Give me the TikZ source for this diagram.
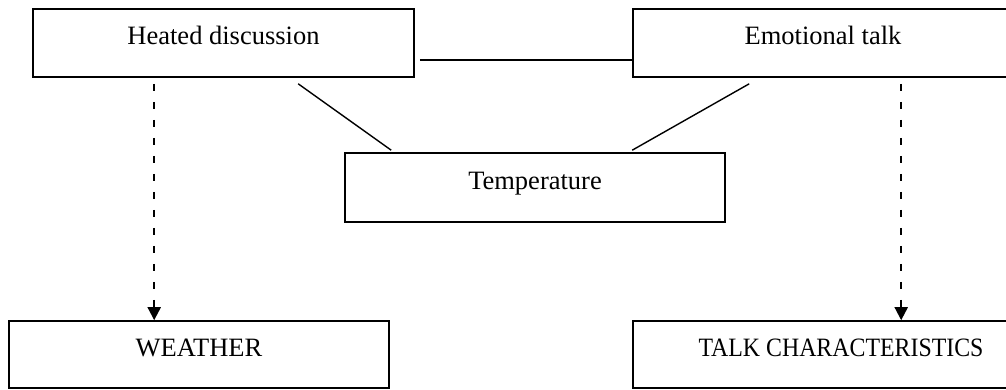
\documentclass[tikz,border=0pt]{standalone}
\usepackage{fontspec}
\setmainfont{Liberation Serif}
\usetikzlibrary{arrows.meta,calc}
\tikzset{
  box/.style={draw, line width=1.6pt, inner sep=0pt, text height=18pt, text depth=15pt,
    font=\fontsize{26.5}{30}\selectfont, anchor=center},
  link/.style={line width=1.4pt},
  dasharrow/.style={line width=2pt, dash pattern=on 7pt off 11pt,
    -{Triangle[width=13pt,length=13pt]}},
}
\begin{document}
\begin{tikzpicture}[x=1pt,y=-1pt]
\useasboundingbox (0,0) rectangle (1006,389);
\clip (0,0) rectangle (1006,389);
\node[box, minimum width=381pt, minimum height=68pt] (heated) at (223.5,43) {Heated discussion};
\node[box, minimum width=380pt, minimum height=68pt] (emo) at (823,43) {Emotional talk};
\node[box, minimum width=380pt, minimum height=69pt] (temp) at (535,187.5) {Temperature};
\node[box, minimum width=380pt, minimum height=67pt] (weather) at (199,354.5) {WEATHER};
\node[box, minimum width=416pt, minimum height=67pt] (talk) at (841,354.5) {\scalebox{0.9}[1]{TALK CHARACTERISTICS}};
% connectors
\draw[link] ($(heated.south east)+(5,-18)$) -- ($(emo.south west)+(0,-18)$);
\draw[link] ($(heated.south west)+(266,6)$) -- ($(temp.north west)+(47,-2)$);
\draw[link] ($(emo.south west)+(117,6)$) -- ($(temp.north west)+(288,-2)$);
\draw[dasharrow] ($(heated.south west)+(122,6)$) -- ($(weather.north west)+(146,0)$);
\draw[dasharrow] ($(emo.south west)+(269,6)$) -- ($(talk.north west)+(269,0)$);
\end{tikzpicture}
\end{document}
